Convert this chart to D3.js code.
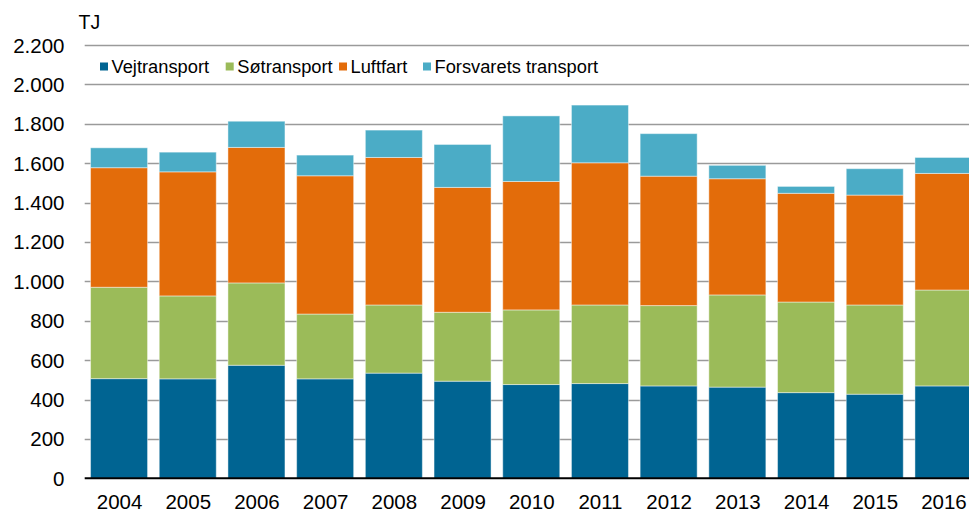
<!DOCTYPE html>
<html>
<head>
<meta charset="utf-8">
<script src="https://cdn.jsdelivr.net/npm/d3@7"></script>
<style>
	body { margin: 0; background: #fff; }
	svg { display: block; font-family: "Liberation Sans", Arial, sans-serif; }
</style>
</head>
<body>
<svg id="chart" width="969" height="512"></svg>
<script>
var years = ["2004", "2005", "2006", "2007", "2008", "2009", "2010", "2011", "2012", "2013", "2014", "2015", "2016"];
var vejtransport = [506, 505, 574, 505, 534, 493, 476, 481, 469, 463, 435, 427, 469];
var soetransport = [464, 421, 418, 329, 346, 350, 379, 399, 408, 468, 460, 453, 487];
var luftfart = [607, 630, 688, 702, 749, 634, 652, 722, 657, 590, 552, 558, 592];
var forsvarets = [101, 100, 133, 105, 139, 218, 333, 293, 216, 68, 35, 134, 81];
var seriesNames = ["Vejtransport", "Søtransport", "Luftfart", "Forsvarets transport"];
var colors = ["#006492", "#9bbb59", "#e36c0a", "#4bacc6"];
var yTicks = [0, 200, 400, 600, 800, 1000, 1200, 1400, 1600, 1800, 2000, 2200];

var rows = years.map(function (y, i) {
	return { year: y, s0: vejtransport[i], s1: soetransport[i], s2: luftfart[i], s3: forsvarets[i] };
});
var stacked = d3.stack().keys(["s0", "s1", "s2", "s3"])(rows);

var svg = d3.select("#chart");
var plotLeft = 84.7, plotRight = 977.8, plotTop = 45, plotBottom = 478.3;

var x = d3.scaleBand().domain(years).range([plotLeft, plotRight]).paddingInner(0.17).paddingOuter(0.085);
var y = d3.scaleLinear().domain([0, 2200]).range([plotBottom, plotTop]);

var fmt = d3.formatLocale({ decimal: ",", thousands: ".", grouping: [3], currency: ["", " kr"] }).format(",d");

// grid
svg.append("g").selectAll("line").data(yTicks.slice(1)).join("line")
	.attr("x1", plotLeft).attr("x2", 969)
	.attr("y1", function (d) { return Math.round(y(d)) + 0.5; })
	.attr("y2", function (d) { return Math.round(y(d)) + 0.5; })
	.attr("stroke", "#9a9a9a").attr("stroke-width", 1.3);

// bars
svg.append("g").selectAll("g").data(stacked).join("g")
	.attr("fill", function (d, i) { return colors[i]; })
	.selectAll("rect").data(function (d) { return d; }).join("rect")
	.attr("x", function (d) { return x(d.data.year); })
	.attr("width", x.bandwidth())
	.attr("y", function (d) { return y(d[1]); })
	.attr("height", function (d) { return y(d[0]) - y(d[1]); })
	.attr("stroke", "rgba(255,255,255,0.45)").attr("stroke-width", 1);

// baseline
svg.append("line").attr("x1", plotLeft).attr("x2", 969)
	.attr("y1", plotBottom).attr("y2", plotBottom)
	.attr("stroke", "#000").attr("stroke-width", 2);

// y labels
svg.append("g").selectAll("text").data(yTicks).join("text")
	.attr("x", 64.5).attr("y", function (d) { return y(d) + 7.5; })
	.attr("text-anchor", "end").attr("font-size", 20.5).attr("fill", "#000")
	.text(function (d) { return fmt(d); });

// x labels
svg.append("g").selectAll("text").data(years).join("text")
	.attr("x", function (d) { return x(d) + x.bandwidth() / 2 + 0.5; })
	.attr("y", 509)
	.attr("text-anchor", "middle").attr("font-size", 20.5).attr("fill", "#000")
	.text(function (d) { return d; });

svg.append("text").attr("x", 78.5).attr("y", 29.2).attr("font-size", 19.5).text("TJ");

// legend
var legendX = [100, 225.7, 339, 423];
var legend = svg.append("g").selectAll("g").data(seriesNames).join("g")
	.attr("transform", function (d, i) { return "translate(" + legendX[i] + ",63)"; });
legend.append("rect").attr("width", 8).attr("height", 8).attr("y", -0.5)
	.attr("fill", function (d, i) { return colors[i]; });
legend.append("text").attr("x", 11.5).attr("y", 10.3).attr("font-size", 18.3)
	.text(function (d) { return d; });
</script>
</body>
</html>
